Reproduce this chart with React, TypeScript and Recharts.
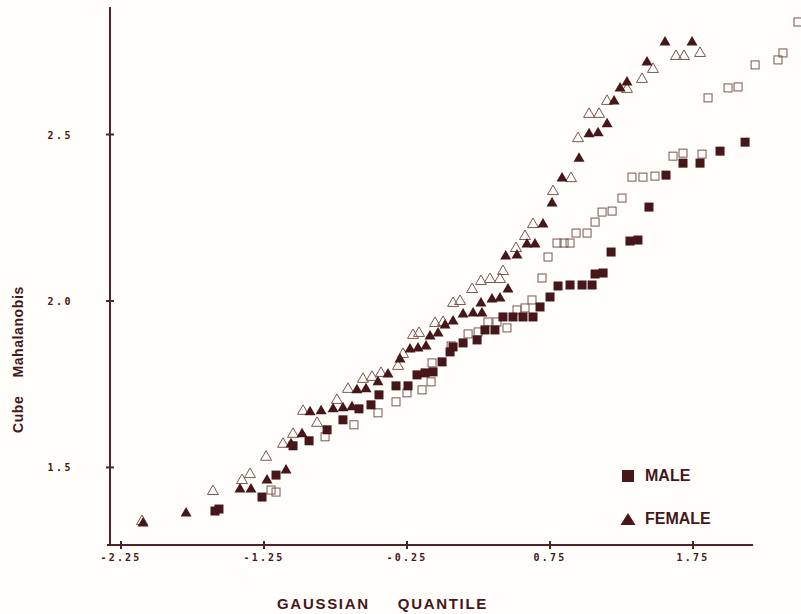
import React from 'react';
import { ScatterChart, Scatter, XAxis, YAxis, ReferenceLine, Legend } from 'recharts';

// ---- data ----
const xTicks = [-2.25, -1.25, -0.25, 0.75, 1.75];
const yTicks = [1.5, 2.0, 2.5];
const legendLabels = ['MALE', 'FEMALE'];
const xLabelWords = ['GAUSSIAN', 'QUANTILE'];
const yLabelWords = ['Cube', 'Mahalanobis'];

// Male, filled squares
const maleFilled: [number, number][] = [
  [-1.593, 1.369], [-1.565, 1.375], [-1.264, 1.411], [-1.166, 1.477], [-1.047, 1.565],
  [-0.935, 1.58], [-0.809, 1.613], [-0.698, 1.643], [-0.586, 1.676], [-0.502, 1.688],
  [-0.446, 1.718], [-0.327, 1.745], [-0.243, 1.745], [-0.18, 1.778], [-0.124, 1.784],
  [-0.068, 1.787], [-0.005, 1.817], [0.051, 1.847], [0.072, 1.862], [0.142, 1.874],
  [0.24, 1.883], [0.295, 1.913], [0.365, 1.913], [0.421, 1.952], [0.491, 1.952],
  [0.561, 1.952], [0.631, 1.952], [0.68, 1.982], [0.75, 2.012], [0.806, 2.045],
  [0.89, 2.048], [0.974, 2.048], [1.044, 2.048], [1.065, 2.081], [1.121, 2.084],
  [1.177, 2.147], [1.309, 2.18], [1.365, 2.183], [1.442, 2.282], [1.561, 2.378],
  [1.68, 2.414], [1.799, 2.414], [1.939, 2.45], [2.114, 2.477],
];

// Male, open squares
const maleOpen: [number, number][] = [
  [-1.201, 1.432], [-1.166, 1.426], [-0.823, 1.592], [-0.621, 1.628], [-0.453, 1.664],
  [-0.327, 1.697], [-0.25, 1.724], [-0.145, 1.733], [-0.082, 1.757], [-0.075, 1.814],
  [0.058, 1.865], [0.177, 1.901], [0.247, 1.907], [0.316, 1.937], [0.379, 1.937],
  [0.449, 1.919], [0.519, 1.973], [0.575, 1.979], [0.624, 2.003], [0.694, 2.069],
  [0.736, 2.132], [0.799, 2.174], [0.848, 2.174], [0.89, 2.174], [0.932, 2.204],
  [1.009, 2.204], [1.065, 2.237], [1.114, 2.267], [1.184, 2.27], [1.253, 2.309],
  [1.323, 2.372], [1.4, 2.372], [1.484, 2.375], [1.61, 2.435], [1.68, 2.444],
  [1.813, 2.441], [1.855, 2.61], [1.995, 2.64], [2.065, 2.643], [2.184, 2.709],
  [2.344, 2.724], [2.379, 2.745], [2.484, 2.838],
];

// Female, filled triangles
const femaleFilled: [number, number][] = [
  [-2.096, 1.336], [-1.795, 1.366], [-1.418, 1.438], [-1.341, 1.438], [-1.229, 1.465],
  [-1.096, 1.495], [-1.061, 1.574], [-0.984, 1.604], [-0.928, 1.67], [-0.851, 1.673],
  [-0.767, 1.679], [-0.698, 1.682], [-0.635, 1.685], [-0.6, 1.736], [-0.537, 1.739],
  [-0.453, 1.76], [-0.383, 1.784], [-0.299, 1.829], [-0.229, 1.859], [-0.173, 1.862],
  [-0.117, 1.868], [-0.089, 1.898], [-0.033, 1.907], [0.016, 1.931], [0.072, 1.943],
  [0.142, 1.964], [0.212, 1.967], [0.274, 1.967], [0.267, 1.997], [0.344, 2.009],
  [0.4, 2.012], [0.456, 2.039], [0.44, 2.138], [0.519, 2.141], [0.589, 2.174],
  [0.645, 2.174], [0.701, 2.234], [0.764, 2.297], [0.834, 2.372], [0.953, 2.432],
  [1.023, 2.505], [1.086, 2.508], [1.149, 2.535], [1.198, 2.604], [1.24, 2.643],
  [1.288, 2.661], [1.428, 2.721], [1.554, 2.781], [1.743, 2.781],
];

// Female, open triangles
const femaleOpen: [number, number][] = [
  [-2.103, 1.342], [-1.607, 1.432], [-1.404, 1.465], [-1.348, 1.483], [-1.236, 1.535],
  [-1.117, 1.574], [-1.047, 1.604], [-0.977, 1.673], [-0.879, 1.637], [-0.74, 1.706],
  [-0.663, 1.739], [-0.558, 1.769], [-0.495, 1.775], [-0.432, 1.787], [-0.313, 1.808],
  [-0.278, 1.844], [-0.208, 1.901], [-0.166, 1.907], [-0.054, 1.937], [0.002, 1.94],
  [0.072, 1.997], [0.121, 2.003], [0.205, 2.039], [0.267, 2.063], [0.33, 2.069],
  [0.4, 2.069], [0.421, 2.093], [0.512, 2.162], [0.575, 2.198], [0.631, 2.234],
  [0.771, 2.333], [0.897, 2.372], [0.946, 2.492], [1.023, 2.565], [1.093, 2.565],
  [1.149, 2.604], [1.288, 2.64], [1.393, 2.67], [1.47, 2.7], [1.631, 2.739],
  [1.687, 2.739], [1.799, 2.748],
];

const toPts = (arr: [number, number][]) => arr.map(([x, y]) => ({ x, y }));

// ---- styles ----
const BG = '#fffefa';
const INK = '#461619';
const OPEN = '#7a5650';
const AXIS = '#4e2428';
const TICK_FONT = '"DejaVu Sans Mono", monospace';
const LABEL_FONT = '"Liberation Sans", Arial, sans-serif';

const FilledSquare = (p: any) => (
  <rect x={p.cx - 4.5} y={p.cy - 4.5} width={9} height={9} fill={INK} />
);
const OpenSquare = (p: any) => (
  <rect x={p.cx - 4} y={p.cy - 4} width={8} height={8} fill="none" stroke={OPEN} strokeWidth={1} />
);
const FilledTriangle = (p: any) => (
  <polygon
    points={`${p.cx - 5.5},${p.cy + 4.5} ${p.cx + 5.5},${p.cy + 4.5} ${p.cx},${p.cy - 5}`}
    fill={INK}
  />
);
const OpenTriangle = (p: any) => (
  <polygon
    points={`${p.cx - 5.5},${p.cy + 4.5} ${p.cx + 5.5},${p.cy + 4.5} ${p.cx},${p.cy - 5}`}
    fill="none"
    stroke={OPEN}
    strokeWidth={1}
  />
);

const XTick = (props: any) => {
  const { x, y, payload } = props;
  return (
    <g>
      <line x1={x} x2={x} y1={y - 4} y2={y + 4} stroke={AXIS} strokeWidth={2} />
      <text
        x={x}
        y={y + 16}
        textAnchor="middle"
        fontFamily={TICK_FONT}
        fontWeight="bold"
        fontSize={10}
        letterSpacing={2.2}
        fill={INK}
      >
        {Number(payload.value).toFixed(2)}
      </text>
    </g>
  );
};

const YTick = (props: any) => {
  const { x, y, payload } = props;
  return (
    <g>
      <line x1={x - 4} x2={x + 4} y1={y} y2={y} stroke={AXIS} strokeWidth={2} />
      <text
        x={x - 37}
        y={y + 4}
        textAnchor="end"
        fontFamily={TICK_FONT}
        fontWeight="bold"
        fontSize={10}
        letterSpacing={2.5}
        fill={INK}
      >
        {Number(payload.value).toFixed(1)}
      </text>
    </g>
  );
};

const XLabel = (props: any) => {
  const vb = props.viewBox;
  return (
    <text
      x={vb.x + 167}
      y={vb.y + 64}
      fontFamily={LABEL_FONT}
      fontWeight="bold"
      fontSize={15}
      letterSpacing={1.7}
      fill={INK}
    >
      <tspan>{xLabelWords[0]}</tspan>
      <tspan dx={28}>{xLabelWords[1]}</tspan>
    </text>
  );
};

const YLabel = (props: any) => {
  const vb = props.viewBox;
  const cx = vb.x + 23;
  const cy = vb.y + 426;
  return (
    <text
      x={cx}
      y={cy}
      transform={`rotate(-90 ${cx} ${cy})`}
      fontFamily={LABEL_FONT}
      fontWeight="bold"
      fontSize={14}
      letterSpacing={0.6}
      fill={INK}
    >
      <tspan>{yLabelWords[0]}</tspan>
      <tspan dx={18}>{yLabelWords[1]}</tspan>
    </text>
  );
};

const LegendContent = () => (
  <div style={{ fontFamily: LABEL_FONT, fontWeight: 'bold', fontSize: 16, color: INK }}>
    <div style={{ display: 'flex', alignItems: 'center', height: 20, marginBottom: 23 }}>
      <svg width={16} height={16} style={{ marginRight: 9 }}>
        <rect x={2} y={2} width={12} height={12} fill={INK} />
      </svg>
      <span>{legendLabels[0]}</span>
    </div>
    <div style={{ display: 'flex', alignItems: 'center', height: 20 }}>
      <svg width={16} height={16} style={{ marginRight: 9 }}>
        <polygon points="0.5,14 15.5,14 8,2" fill={INK} />
      </svg>
      <span>{legendLabels[1]}</span>
    </div>
  </div>
);

export default function App() {
  return (
    <div style={{ position: 'absolute', left: 0, top: 0, width: 801, height: 614, background: BG }}>
      <ScatterChart width={801} height={614} margin={{ top: 7, right: 0, bottom: 0, left: 0 }}>
        <XAxis
          type="number"
          dataKey="x"
          domain={[-2.327, 2.505]}
          allowDataOverflow
          ticks={xTicks}
          interval={0}
          height={69}
          axisLine={false}
          tickLine={false}
          tickSize={0}
          tickMargin={0}
          tick={<XTick />}
          label={<XLabel />}
        />
        <YAxis
          type="number"
          dataKey="y"
          domain={[1.267, 2.883]}
          allowDataOverflow
          ticks={yTicks}
          interval={0}
          width={110}
          axisLine={{ stroke: AXIS, strokeWidth: 2 }}
          tickLine={false}
          tickSize={0}
          tickMargin={0}
          tick={<YTick />}
          label={<YLabel />}
        />
        <ReferenceLine
          segment={[{ x: -2.348, y: 1.267 }, { x: 2.17, y: 1.267 }]}
          stroke={AXIS}
          strokeWidth={2}
          ifOverflow="visible"
        />
        <Scatter name="male-open" data={toPts(maleOpen)} shape={<OpenSquare />} isAnimationActive={false} legendType="none" />
        <Scatter name="female-open" data={toPts(femaleOpen)} shape={<OpenTriangle />} isAnimationActive={false} legendType="none" />
        <Scatter name="male" data={toPts(maleFilled)} shape={<FilledSquare />} isAnimationActive={false} />
        <Scatter name="female" data={toPts(femaleFilled)} shape={<FilledTriangle />} isAnimationActive={false} />
        <Legend
          layout="vertical"
          align="center"
          verticalAlign="middle"
          content={<LegendContent />}
          wrapperStyle={{ left: 620, top: 466, width: 'auto', right: 'auto', bottom: 'auto' }}
        />
      </ScatterChart>
    </div>
  );
}
